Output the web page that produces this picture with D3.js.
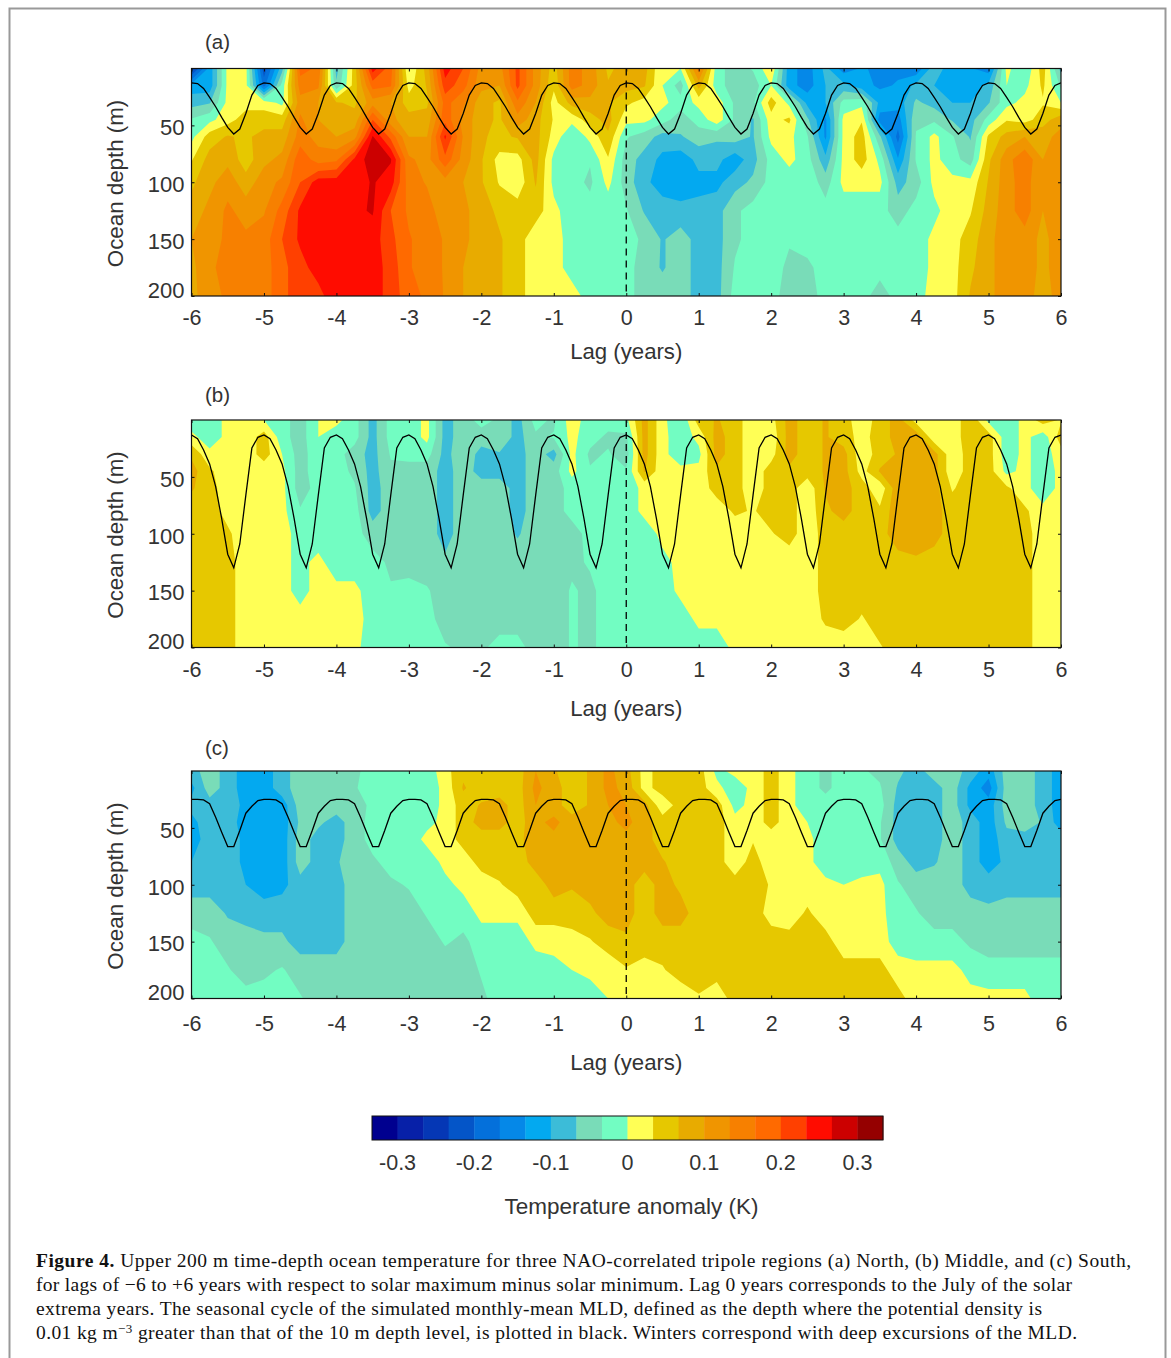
<!DOCTYPE html>
<html>
<head>
<meta charset="utf-8">
<script src="https://cdnjs.cloudflare.com/ajax/libs/d3/7.8.5/d3.min.js"></script>
<style>
  html, body { margin: 0; padding: 0; background: #fff; }
  svg { display: block; }
  text { font-family: "Liberation Sans", Arial, sans-serif; fill: #333; }
  .caption text, text.caption { font-family: "Liberation Serif", serif; fill: #111; font-size: 19.5px; }
</style>
</head>
<body>
<div id="chart"></div>
<script>
// grid of the contour data: one column every 3 months, depth levels in m
var lags = d3.range(49).map(function(i) { return -6 + i / 4; });
var depths = [0, 15, 30, 45, 60, 80, 100, 125, 150, 175, 200];

// Temperature anomaly, in hundredths of a K, one row per depth
var northT = [
  [-25,-12,1,1,-22,-8,18,16,-8,5,25,18,0,8,25,20,12,12,21,12,5,15,12,6,8, 8,0,0,15,-2,-5,-3,3,-12,-15,-9,-15,-13,-14,-14,-16,-8,-12,-13,-15,1,-3,5,-8],
  [-12,-12,1,1,-18,-2,15,14,-6,5,18,17,2,7,22,18,11,10,21,12,4,15,12,7,8, 7,0,-5,8,-2,-5,-5,0,-12,-15,-10,-9,-12,-14,-13,-9,-10,-12,-12,-9,0,-1,4,-4],
  [-8,-7,1,2,2,-1,12,10,7,6,12,10,5,6,18,14,8,6,16,10,2,8,9,7,4, 2,1,-2,1,2,-4,-4,5,-1,-11,-10,-2,-1,-11,-12,-6,-8,-10,-10,-7,-1,1,3,0],
  [-3,-1,2,5,5,5,14,10,8,8,20,11,8,8,19,12,8,6,12,8,3,1,5,8,1, 1,-2,-5,-2,2,-4,-7,2,4,-6,-14,1,3,-15,-15,-4,-4,-7,-8,-2,3,2,5,9],
  [-1,5,7,6,8,8,15,12,10,12,27,19,10,10,24,13,7,6,7,8,2,-3,1,6,-3, -5,-8,-7,-5,-6,-5,-7,1,1,-3,-14,1,5,-6,-18,-3,1,-3,-7,4,8,10,9,11],
  [3,8,9,5,9,11,19,15,16,24,29,27,14,12,19,12,7,2,2,8,-1,-3,-3,3,-5, -8,-11,-12,-9,-9,-12,-8,-2,1,-2,-9,1,5,-1,-13,-3,1,-2,-5,6,12,16,10,11],
  [6,9,12,8,12,14,20,25,25,25,27,25,15,13,12,10,7,3,1,7,-1,-2,-4,1,-5, -9,-12,-12,-11,-11,-8,-6,-2,-2,-1,-5,1,1,1,-8,-5,1,1,1,7,12,15,10,11],
  [8,11,14,12,13,18,24,26,26,26,27,20,16,15,11,11,8,6,5,5,1,-2,-2,-2,-3, -7,-8,-9,-9,-8,-4,-2,-2,-3,-1,-2,-2,-2,-2,-5,-2,-1,2,3,8,12,15,10,11],
  [10,12,14,14,15,20,24,26,26,26,25,21,17,15,13,11,8,7,5,1,1,-1,-2,-2,-2, -4,-7,-5,-8,-8,-4,-2,-2,-3,-2,-2,-2,-2,-2,-2,-2,1,2,5,9,12,12,9,12],
  [9,13,14,14,15,19,22,25,26,26,25,22,17,15,13,10,8,7,5,1,1,-1,-2,-2,-2, -5,-7,-5,-8,-8,-3,-2,-2,-4,-4,-2,-2,-2,-2,-2,-2,1,2,6,9,12,12,9,12],
  [9,12,14,14,15,19,22,22,26,26,25,22,18,16,13,10,8,7,5,1,1,1,-1,-2,-2, -5,-5,-5,-8,-8,-2,-2,-2,-5,-5,-2,-2,-2,-5,-2,-2,2,2,7,9,12,12,8,12]
];

var middleT = [
  [-2,-2,1,1,0,-2,-5,0,1,-2,-8,-2,-2,1,-8,-5,-2,-4,-8,-2,-4,2,-2,-2,-1, 8,1,-3,5,7,5,1,2,8,5,7,5,1,5,8,2,1,1,6,-1,-2,1,5,3],
  [1,-2,1,1,5,-2,-5,0,-2,-2,-8,-2,-2,1,-8,-5,-5,-4,-8,-4,-3,1,-2,-4,-4, 8,1,-2,1,8,5,1,1,8,5,7,5,2,5,8,9,1,1,6,5,-2,1,-2,5],
  [6,1,1,1,5,0,-5,-1,-2,-5,-8,-3,-2,-2,-8,-4,-8,-7,-8,-5,-8,1,-4,-3,-5, 8,1,-2,-1,8,5,1,2,8,5,7,8,1,5,7,10,8,1,5,5,-2,1,-2,2],
  [8,4,1,1,1,1,-5,-1,-2,-4,-8,-4,-5,-5,-8,-5,-8,-8,-8,-5,-5,1,-3,-3,-3, 7,1,1,1,6,5,1,5,6,5,7,8,2,7,9,9,8,1,5,5,-1,1,-2,1],
  [7,5,1,1,1,1,-5,-2,-2,-3,-8,-5,-5,-5,-8,-5,-5,-5,-8,-5,-5,-2,-1,-2,-2, 1,1,1,1,5,5,1,5,5,1,7,8,5,1,9,9,8,3,5,5,4,1,-2,1],
  [5,5,2,1,1,1,-3,-2,-2,-2,-8,-5,-5,-5,-8,-5,-5,-5,-8,-5,-5,-2,-2,-2,-2, 1,1,1,1,1,4,3,5,5,1,6,8,5,4,9,9,8,5,5,5,5,4,1,1],
  [5,5,4,1,1,1,-1,-2,-2,-2,-5,-5,-5,-5,-8,-5,-5,-5,-7,-5,-5,-5,-2,-2,-2, -2,1,1,1,1,1,1,3,5,1,5,5,5,5,9,9,8,5,5,5,5,5,1,1],
  [5,5,5,1,1,1,-1,1,-2,-2,-2,-4,-5,-5,-6,-5,-5,-5,-5,-5,-5,-4,-3,-2,-2, -2,-1,1,1,1,1,1,1,1,1,5,5,5,5,5,6,5,5,5,5,5,5,1,1],
  [5,5,5,1,1,1,-1,1,1,1,-2,-3,-2,-3,-5,-5,-5,-5,-5,-5,-5,-3,-4,-2,-2, -2,-2,1,1,1,1,1,1,1,1,5,5,5,5,5,5,5,5,5,5,5,5,1,1],
  [5,5,5,1,1,1,1,1,1,1,-1,-2,-2,-2,-5,-5,-5,-5,-5,-5,-5,-3,-4,-2,-2, -2,-2,-2,1,1,1,1,1,1,1,4,5,3,5,5,5,5,5,5,5,5,5,1,1],
  [5,5,5,1,1,1,1,1,1,1,-2,-2,-2,-2,-3,-4,-4,-2,-2,-5,-5,-3,-4,-2,-2, -2,-2,-2,-2,-2,1,1,1,1,1,1,1,1,3,5,5,5,5,5,5,5,5,1,1]
];

var southT = [
  [-8,-5,-8,-12,-12,-8,-5,-5,-6,-4,-2,-2,-2,-2,2,6,5,5,5,10,7,5,7,11,8, 2,5,5,5,-1,1,1,5,1,-2,-4,-2,-3,-4,-6,-8,-5,-5,-8,-12,-5,-5,-8,-12],
  [-11,-5,-8,-12,-12,-8,-5,-5,-5,-4,0,-2,-2,-2,1,7,5,5,5,11,8,5,7,11,9, 2,5,5,5,1,-2,1,5,1,-2,-4,-2,-3,-3,-7,-8,-8,-5,-11,-15,-5,-5,-8,-12],
  [-9,-8,-8,-11,-12,-12,-5,-5,-5,-4,-3,-2,-2,-2,1,5,7,8,5,10,8,5,7,10,10, 8,1,5,5,5,-1,1,5,1,-2,-2,-2,-3,-2,-8,-8,-8,-5,-11,-12,-5,-5,-8,-12],
  [-11,-8,-8,-12,-12,-12,-6,-6,-8,-5,-2,-2,-2,-1,1,5,8,8,5,9,11,8,8,9,11, 8,5,5,5,5,1,1,5,1,0,-2,-2,-2,-3,-8,-8,-8,-5,-8,-12,-6,-5,-7,-12],
  [-12,-8,-8,-11,-12,-12,-5,-8,-8,-5,-2,-2,-2,1,1,5,5,5,6,8,9,8,7,9,9, 8,5,5,5,5,1,3,1,1,1,-2,-2,-2,-3,-8,-8,-8,-5,-8,-12,-8,-8,-8,-8],
  [-10,-8,-8,-11,-12,-12,-5,-8,-7,-5,-4,-2,-2,-2,1,1,5,5,5,8,8,8,8,8,8, 8,7,5,5,5,1,5,1,1,1,-2,-2,-2,-1,-5,-8,-7,-5,-8,-12,-9,-8,-8,-8],
  [-8,-8,-8,-10,-12,-11,-8,-8,-8,-5,-5,-4,-3,-2,-1,1,1,3,5,5,8,7,8,8,8, 5,8,6,5,5,5,5,3,1,1,1,0,1,1,-3,-5,-5,-5,-8,-8,-8,-8,-8,-8],
  [-5,-5,-7,-8,-8,-8,-8,-8,-8,-5,-5,-5,-5,-3,-2,-2,1,1,1,5,5,5,6,8,8, 5,8,8,5,5,5,5,2,1,4,1,1,1,1,-2,-3,-5,-5,-5,-6,-5,-5,-5,-5],
  [-2,-3,-5,-5,-6,-6,-8,-8,-8,-5,-5,-5,-5,-5,-3,-4,-2,-2,-2,1,1,2,3,5,6, 5,5,5,5,5,5,5,5,5,5,5,1,1,1,-1,-2,-2,-2,-4,-5,-5,-5,-5,-5],
  [-2,-2,-3,-5,-4,-3,-5,-5,-5,-5,-5,-5,-5,-5,-5,-5,-3,-2,-2,-2,-1,0,1,1,3, 2,3,5,5,5,5,5,5,5,5,5,5,5,5,1,1,1,1,-1,-2,-2,-2,-2,-2],
  [0,-2,-2,-2,-2,-2,-3,-5,-5,-5,-5,-5,-5,-5,-5,-5,-4,-2,-2,-2,-2,-2,-2,0,1, 1,1,1,3,1,5,5,5,5,5,5,5,5,5,5,1,1,1,1,1,1,1,-2,-2]
];

// Seasonal cycle of the MLD (m), one value per month starting in July
var northMld = [12.6, 13.2, 17.5, 25.4, 33.6, 43, 51.8, 57.6, 53.2, 39.5, 23.4, 14.9];
var middleMld = [13.2, 16.4, 26.3, 38.6, 58.5, 86.8, 118, 130, 109, 66, 24.6, 15.2];
var southMld = [24.9, 24.9, 25.4, 28.7, 40.6, 53.8, 66.4, 66.4, 52.3, 37.1, 31, 26];

// colour bar
var barColors = ["#00008f", "#0720a8", "#0537b5", "#0455c8", "#0470db", "#0588e8", "#03a9f0", "#3cbcd8", "#79dcb8", "#72fdc2",
  "#ffff55", "#e6c800", "#e8ab00", "#f09500", "#f78000", "#ff6a00", "#ff4000", "#ff0c00", "#cc0000", "#950000"];
var barTicks = [-0.3, -0.2, -0.1, 0, 0.1, 0.2, 0.3];
var lagTicks = d3.range(-6, 7);
var depthTicks = [50, 100, 150, 200];

var captionLines = [
  [["Figure 4.", true], [" Upper 200 m time-depth ocean temperature for three NAO-correlated tripole regions (a) North, (b) Middle, and (c) South,"]],
  [["for lags of \u22126 to +6 years with respect to solar maximum minus solar minimum. Lag 0 years corresponds to the July of the solar"]],
  [["extrema years. The seasonal cycle of the simulated monthly-mean MLD, defined as the depth where the potential density is"]],
  [["0.01 kg m"], ["\u22123", false, true], [" greater than that of the 10 m depth level, is plotted in black. Winters correspond with deep excursions of the MLD."]]
];
var captionEnds = [1131, 1072, 1042, 1077];

var svg = d3.select("#chart").append("svg")
  .attr("width", 1171)
  .attr("height", 1358);

// page frame
svg.append("path")
  .attr("d", "M9.5,1358V8.5H1165.5V1358")
  .attr("fill", "none")
  .attr("stroke", "#999")
  .attr("stroke-width", 2);

var left = 191.5, right = 1061;
var x = d3.scaleLinear().domain([-6, 6]).range([left, right]);

// contour edges sit on multiples of 1/30 K, written here in hundredths of a K
var edges = d3.range(-9, 10).map(function(k) { return k * 10 / 3; });

function drawPanel(name, top, grid, mld, clipId, tickPad, lagLabelY, titleY) {
  var bottom = top + 227.5;
  var y = d3.scaleLinear().domain([0, 200]).range([top, bottom]);
  var g = svg.append("g");

  svg.append("clipPath").attr("id", clipId)
    .append("rect")
      .attr("x", left).attr("y", top)
      .attr("width", right - left).attr("height", bottom - top);

  var plot = g.append("g").attr("clip-path", "url(#" + clipId + ")");

  plot.append("rect")
    .attr("x", left).attr("y", top)
    .attr("width", right - left).attr("height", bottom - top)
    .attr("fill", barColors[0]);

  // grid index -> pixel
  var ix = d3.scaleLinear().domain(d3.range(lags.length)).range(lags.map(x)).clamp(true);
  var iy = d3.scaleLinear().domain(d3.range(depths.length)).range(depths.map(y)).clamp(true);
  var path = d3.geoPath(d3.geoTransform({
    point: function(a, b) { this.stream.point(ix(a - 0.5), iy(b - 0.5)); }
  }));

  var contours = d3.contours()
    .size([lags.length, depths.length])
    .thresholds(edges)(grid.flat());

  plot.selectAll("path.level")
    .data(contours)
    .enter()
    .append("path")
      .attr("class", "level")
      .attr("d", path)
      .attr("fill", function(d, i) { return barColors[i + 1]; });

  // MLD seasonal cycle, repeated every year
  var months = d3.range(145).map(function(m) { return { lag: -6 + m / 12, depth: mld[m % 12] }; });
  plot.append("path")
    .datum(months)
    .attr("fill", "none")
    .attr("stroke", "#000")
    .attr("stroke-width", 1.3)
    .attr("d", d3.line().x(function(d) { return x(d.lag); }).y(function(d) { return y(d.depth); }));

  plot.append("line")
    .attr("x1", x(0)).attr("x2", x(0))
    .attr("y1", top).attr("y2", bottom)
    .attr("stroke", "#000")
    .attr("stroke-width", 1.3)
    .attr("stroke-dasharray", "7,5");

  // frame and ticks
  g.append("rect")
    .attr("x", left).attr("y", top)
    .attr("width", right - left).attr("height", bottom - top)
    .attr("fill", "none")
    .attr("stroke", "#111")
    .attr("stroke-width", 1.2);

  var xAxis = g.append("g")
    .attr("transform", "translate(0," + bottom + ")")
    .call(d3.axisBottom(x).tickValues(lagTicks).tickFormat(function(d) { return String(d); }).tickSizeInner(-3).tickSizeOuter(0).tickPadding(tickPad));
  g.append("g")
    .attr("transform", "translate(0," + top + ")")
    .call(d3.axisTop(x).tickValues(lagTicks).tickFormat("").tickSizeInner(-3).tickSizeOuter(0));
  var yAxis = g.append("g")
    .attr("transform", "translate(" + left + ",0)")
    .call(d3.axisLeft(y).tickValues(depthTicks).tickSizeInner(-3).tickSizeOuter(0).tickPadding(7));
  g.append("g")
    .attr("transform", "translate(" + right + ",0)")
    .call(d3.axisRight(y).tickValues(depthTicks).tickFormat("").tickSizeInner(-3).tickSizeOuter(0));

  g.selectAll(".domain").remove();
  g.selectAll(".tick line").attr("stroke", "#111").attr("stroke-width", 1);
  xAxis.selectAll("text").attr("font-size", 21.5).attr("font-family", null).attr("fill", "#333");
  yAxis.selectAll("text").attr("font-size", 22).attr("font-family", null).attr("fill", "#333").attr("dy", "0.42em");

  // the 200 label is lifted clear of the x axis labels
  yAxis.selectAll(".tick").filter(function(d) { return d === 200; }).select("text").attr("y", -8);

  g.append("text")
    .attr("x", 205)
    .attr("y", titleY)
    .attr("font-size", 20.5)
    .text("(" + name + ")");

  g.append("text")
    .attr("x", x(0))
    .attr("y", lagLabelY)
    .attr("text-anchor", "middle")
    .attr("font-size", 22.2)
    .text("Lag (years)");

  g.append("text")
    .attr("transform", "translate(123," + (top + 115) + ") rotate(-90)")
    .attr("text-anchor", "middle")
    .attr("font-size", 22.3)
    .text("Ocean depth (m)");
}

drawPanel("a", 68.5, northT, northMld, "clipA", 14, 358.5, 49);
drawPanel("b", 420, middleT, middleMld, "clipB", 14, 715.5, 402);
drawPanel("c", 771, southT, southMld, "clipC", 17, 1069.5, 755);

// colour bar
var bar = d3.scaleLinear().domain([-1 / 3, 1 / 3]).range([372, 883]);
var barTop = 1116, barHeight = 24;

svg.selectAll("rect.swatch")
  .data(barColors)
  .enter()
  .append("rect")
    .attr("class", "swatch")
    .attr("x", function(d, i) { return bar(-1 / 3 + i / 30); })
    .attr("y", barTop)
    .attr("width", bar(1 / 30) - bar(0) + 0.4)
    .attr("height", barHeight)
    .attr("fill", function(d) { return d; });

svg.append("rect")
  .attr("x", 372).attr("y", barTop)
  .attr("width", 511).attr("height", barHeight)
  .attr("fill", "none")
  .attr("stroke", "#111")
  .attr("stroke-width", 1);

svg.selectAll("text.barTick")
  .data(barTicks)
  .enter()
  .append("text")
    .attr("class", "barTick")
    .attr("x", function(d) { return bar(d); })
    .attr("y", 1169.5)
    .attr("text-anchor", "middle")
    .attr("font-size", 21.5)
    .text(function(d) { return d === 0 ? "0" : d; });

svg.append("text")
  .attr("x", 631.5)
  .attr("y", 1214)
  .attr("text-anchor", "middle")
  .attr("font-size", 22.5)
  .text("Temperature anomaly (K)");

// caption
captionLines.forEach(function(line, i) {
  var t = svg.append("text")
    .attr("class", "caption")
    .attr("x", 36)
    .attr("y", 1267 + i * 24)
    .attr("textLength", captionEnds[i] - 36)
    .attr("lengthAdjust", "spacing");
  line.forEach(function(part) {
    var s = t.append("tspan").text(part[0]);
    if (part[1]) s.attr("font-weight", "bold");
    if (part[2]) s.attr("baseline-shift", "6").attr("font-size", 13);
  });
});
</script>
</body>
</html>
